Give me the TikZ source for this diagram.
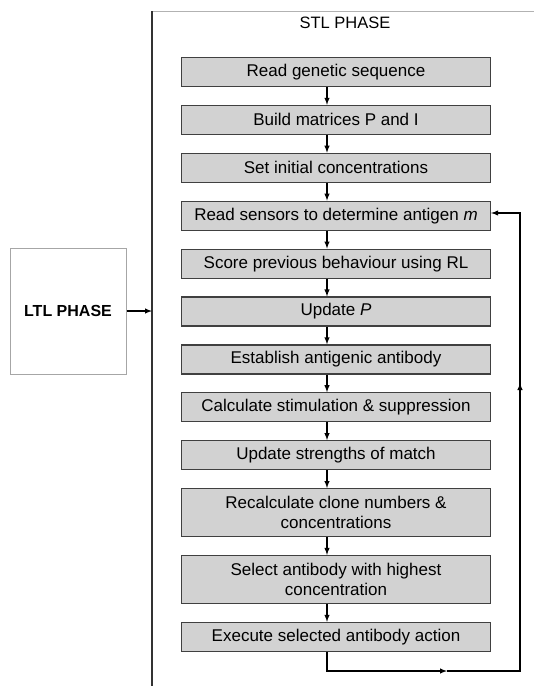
\documentclass[tikz,border=0pt]{standalone}
\usepackage{fontspec}
\setmainfont{Liberation Sans}
\usetikzlibrary{positioning}

\begin{document}
\begin{tikzpicture}[x=1pt, y=-1pt, node distance={17.7pt}, >=latex,
  step box/.style = {draw=gray!50!black, fill=gray!35, line width=1.2pt, minimum width=309pt, minimum height=29pt, inner sep=0pt, align=center, font=\fontsize{17}{20}\selectfont},
  flow/.style = {line width=1.4pt, ->}]
\useasboundingbox (0,0) rectangle (534,686);
% frame of the STL phase
\coordinate (ftop) at (152,11);
\coordinate (fbot) at (152,686);
\coordinate (fright) at (534,11);
\draw[gray!60, line width=0.8pt] (ftop) -- (fright);
\draw[black!80, line width=1.4pt] (ftop) -- (fbot);
\node[font=\fontsize{16.5}{19}\selectfont] (stl) at (345,23) {STL PHASE};
\node[step box] (read) at (336,72) {Read genetic sequence};
\node[step box] (build) [below=of read] {Build matrices P and I};
\node[step box] (init) [below=of build] {Set initial concentrations};
\node[step box] (sensors) [below=of init] {Read sensors to determine antigen \textit{m}};
\node[step box] (score) [below=of sensors] {Score previous behaviour using RL};
\node[step box] (updp) [below=of score] {Update \textit{P}};
\node[step box] (establish) [below=of updp] {Establish antigenic antibody};
\node[step box] (stim) [below=of establish] {Calculate stimulation \& suppression};
\node[step box] (strength) [below=of stim] {Update strengths of match};
\node[step box, minimum height=48pt] (clone) [below=of strength] {Recalculate clone numbers \&\\concentrations};
\node[step box, minimum height=48pt] (select) [below=of clone] {Select antibody with highest\\concentration};
\node[step box] (execute) [below=of select] {Execute selected antibody action};
% arrows down the column
\coordinate (ax) at (327,0);
\draw[flow] (read.south -| ax) -- (build.north -| ax);
\draw[flow] (build.south -| ax) -- (init.north -| ax);
\draw[flow] (init.south -| ax) -- (sensors.north -| ax);
\draw[flow] (sensors.south -| ax) -- (score.north -| ax);
\draw[flow] (score.south -| ax) -- (updp.north -| ax);
\draw[flow] (updp.south -| ax) -- (establish.north -| ax);
\draw[flow] (establish.south -| ax) -- (stim.north -| ax);
\draw[flow] (stim.south -| ax) -- (strength.north -| ax);
\draw[flow] (strength.south -| ax) -- (clone.north -| ax);
\draw[flow] (clone.south -| ax) -- (select.north -| ax);
\draw[flow] (select.south -| ax) -- (execute.north -| ax);
% loop back
\coordinate (lb) at (327,671);
\coordinate (lm) at (447,671);
\coordinate (lr) at (520,671);
\coordinate (lu) at (520,383);
\coordinate (lt) at (520,213);
\draw[flow] (execute.south -| ax) -- (lb) -- (lm);
\draw[line width=1.4pt] (lm) -- (lr) -- (lu);
\draw[flow] (lr) -- (lu);
\draw[flow] (lu) -- (lt) -- (lt -| sensors.east);
% long term phase
\node[draw=gray!70, fill=white, line width=1pt, minimum width=116pt, minimum height=126pt, font=\bfseries\fontsize{16}{19}\selectfont] (ltl) at (68,311) {LTL PHASE};
\draw[flow] (ltl.east) -- (ltl.east -| ftop);
\end{tikzpicture}
\end{document}
